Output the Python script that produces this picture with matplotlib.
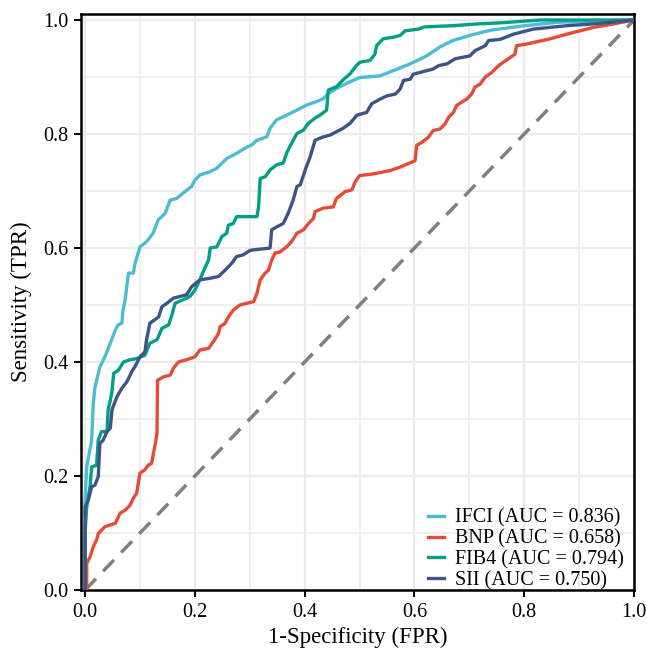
import matplotlib
matplotlib.use("Agg")
import matplotlib.pyplot as plt
from matplotlib.ticker import MultipleLocator

plt.rcParams["font.family"] = ["Liberation Serif", "DejaVu Serif"]

################################## Data #######################################
LABELS = [
    "IFCI (AUC = 0.836)",
    "BNP (AUC = 0.658)",
    "FIB4 (AUC = 0.794)",
    "SII (AUC = 0.750)",
]
COLOURS = ["#4DBBD5", "#E64B35", "#00A087", "#3C5488"]

IFCI_FPR = [0, 0, 0.003, 0.012, 0.015, 0.018, 0.027, 0.036, 0.046, 0.055,
            0.06, 0.067, 0.069, 0.073, 0.079, 0.088, 0.091, 0.1, 0.112,
            0.124, 0.133, 0.146, 0.155, 0.167, 0.182, 0.194, 0.2, 0.209,
            0.228, 0.24, 0.258, 0.276, 0.291, 0.304, 0.313, 0.331, 0.337,
            0.349, 0.367, 0.386, 0.404, 0.422, 0.434, 0.443, 0.458, 0.477,
            0.5, 0.537, 0.561, 0.592, 0.622, 0.647, 0.67, 0.701, 0.738, 0.8,
            0.86, 1]
IFCI_TPR = [0, 0.158, 0.216, 0.263, 0.328, 0.356, 0.391, 0.409, 0.433, 0.456,
            0.465, 0.468, 0.49, 0.509, 0.556, 0.556, 0.573, 0.602, 0.611,
            0.626, 0.649, 0.661, 0.684, 0.687, 0.699, 0.708, 0.719, 0.728,
            0.734, 0.74, 0.757, 0.766, 0.775, 0.781, 0.789, 0.795, 0.81,
            0.825, 0.833, 0.842, 0.851, 0.857, 0.862, 0.871, 0.88, 0.889,
            0.899, 0.902, 0.911, 0.923, 0.937, 0.953, 0.964, 0.973, 0.982,
            0.99, 0.996, 1]

BNP_FPR = [0, 0.003, 0.003, 0.009, 0.015, 0.021, 0.024, 0.03, 0.036, 0.055,
           0.064, 0.073, 0.082, 0.088, 0.094, 0.1, 0.109, 0.115, 0.121, 0.128,
           0.131, 0.132, 0.143, 0.155, 0.161, 0.17, 0.185, 0.2, 0.209, 0.225,
           0.234, 0.243, 0.246, 0.255, 0.261, 0.27, 0.282, 0.307, 0.313,
           0.319, 0.328, 0.334, 0.34, 0.346, 0.355, 0.367, 0.376, 0.386,
           0.398, 0.407, 0.416, 0.419, 0.434, 0.452, 0.458, 0.474, 0.486,
           0.492, 0.5, 0.525, 0.556, 0.574, 0.586, 0.601, 0.604, 0.613,
           0.625, 0.634, 0.647, 0.656, 0.662, 0.671, 0.677, 0.686, 0.695,
           0.704, 0.71, 0.72, 0.729, 0.741, 0.75, 0.756, 0.774, 0.783, 0.786,
           0.805, 0.847, 0.877, 0.926, 0.962, 1]
BNP_TPR = [0, 0, 0.047, 0.058, 0.076, 0.088, 0.099, 0.105, 0.111, 0.117,
           0.135, 0.14, 0.149, 0.161, 0.17, 0.205, 0.211, 0.219, 0.222, 0.257,
           0.275, 0.368, 0.374, 0.377, 0.389, 0.4, 0.404, 0.409, 0.421, 0.424,
           0.436, 0.45, 0.462, 0.468, 0.479, 0.491, 0.5, 0.506, 0.52, 0.544,
           0.556, 0.561, 0.579, 0.591, 0.593, 0.602, 0.611, 0.626, 0.632,
           0.643, 0.652, 0.664, 0.67, 0.672, 0.687, 0.699, 0.702, 0.716,
           0.727, 0.73, 0.736, 0.742, 0.747, 0.753, 0.78, 0.785, 0.794,
           0.806, 0.809, 0.818, 0.829, 0.838, 0.85, 0.856, 0.861, 0.87,
           0.882, 0.888, 0.9, 0.908, 0.917, 0.922, 0.934, 0.94, 0.955, 0.958,
           0.967, 0.975, 0.987, 0.993, 1]

FIB4_FPR = [0, 0, 0.003, 0.009, 0.012, 0.021, 0.024, 0.03, 0.04, 0.042,
            0.046, 0.049, 0.052, 0.061, 0.07, 0.082, 0.094, 0.109, 0.118,
            0.131, 0.14, 0.152, 0.158, 0.164, 0.185, 0.191, 0.2, 0.209, 0.215,
            0.225, 0.228, 0.24, 0.249, 0.258, 0.261, 0.27, 0.276, 0.313,
            0.316, 0.319, 0.328, 0.337, 0.349, 0.361, 0.367, 0.373, 0.386,
            0.398, 0.407, 0.419, 0.428, 0.44, 0.443, 0.458, 0.47, 0.483,
            0.495, 0.501, 0.519, 0.528, 0.531, 0.543, 0.562, 0.574, 0.583,
            0.607, 0.619, 0.67, 0.713, 0.756, 0.83, 1]
FIB4_TPR = [0, 0.1, 0.146, 0.181, 0.216, 0.219, 0.263, 0.278, 0.278, 0.316,
            0.333, 0.348, 0.38, 0.386, 0.4, 0.404, 0.406, 0.412, 0.433, 0.439,
            0.459, 0.465, 0.482, 0.503, 0.512, 0.515, 0.526, 0.544, 0.558,
            0.579, 0.6, 0.602, 0.62, 0.626, 0.64, 0.643, 0.655, 0.655, 0.672,
            0.722, 0.725, 0.737, 0.746, 0.749, 0.766, 0.778, 0.801, 0.807,
            0.819, 0.828, 0.833, 0.842, 0.877, 0.883, 0.895, 0.906, 0.921,
            0.926, 0.929, 0.94, 0.955, 0.967, 0.97, 0.973, 0.981, 0.984,
            0.988, 0.99, 0.993, 0.995, 1.0, 1]

SII_FPR = [0, 0, 0.006, 0.012, 0.018, 0.024, 0.027, 0.033, 0.04, 0.046,
           0.049, 0.058, 0.067, 0.076, 0.085, 0.091, 0.1, 0.109, 0.112, 0.118,
           0.134, 0.14, 0.149, 0.161, 0.185, 0.194, 0.209, 0.228, 0.243,
           0.255, 0.267, 0.276, 0.288, 0.301, 0.337, 0.34, 0.349, 0.361,
           0.37, 0.379, 0.386, 0.392, 0.401, 0.41, 0.419, 0.434, 0.446,
           0.458, 0.47, 0.483, 0.495, 0.513, 0.522, 0.537, 0.55, 0.565,
           0.574, 0.58, 0.592, 0.598, 0.61, 0.634, 0.644, 0.659, 0.674,
           0.701, 0.71, 0.729, 0.735, 0.756, 0.78, 0.816, 0.877, 0.938, 1]
SII_TPR = [0, 0.146, 0.158, 0.181, 0.184, 0.199, 0.257, 0.263, 0.278, 0.284,
           0.316, 0.339, 0.354, 0.365, 0.383, 0.392, 0.409, 0.418, 0.439,
           0.468, 0.479, 0.497, 0.503, 0.512, 0.518, 0.532, 0.544, 0.547,
           0.55, 0.561, 0.573, 0.585, 0.588, 0.596, 0.6, 0.632, 0.637, 0.643,
           0.661, 0.684, 0.708, 0.711, 0.737, 0.76, 0.789, 0.795, 0.798,
           0.804, 0.81, 0.819, 0.833, 0.838, 0.853, 0.861, 0.867, 0.87,
           0.879, 0.894, 0.896, 0.905, 0.908, 0.914, 0.92, 0.923, 0.932,
           0.937, 0.946, 0.955, 0.964, 0.966, 0.975, 0.984, 0.99, 0.994, 1]

FPRS = [IFCI_FPR, BNP_FPR, FIB4_FPR, SII_FPR]
TPRS = [IFCI_TPR, BNP_TPR, FIB4_TPR, SII_TPR]

################################## Plot #######################################
fig = plt.figure(figsize=(6.47, 6.5), dpi=100)
ax = fig.add_axes([0.1247, 0.0923, 0.8553, 0.8857])

ax.xaxis.set_major_locator(MultipleLocator(0.2))
ax.yaxis.set_major_locator(MultipleLocator(0.2))
ax.xaxis.set_minor_locator(MultipleLocator(0.1))
ax.yaxis.set_minor_locator(MultipleLocator(0.1))
ax.grid(which="major", color="#EBEBEB", linewidth=1.6)
ax.grid(which="minor", color="#EBEBEB", linewidth=1.1)
ax.set_axisbelow(True)

ax.plot([0, 1], [0, 1], color="grey", linewidth=2.5,
        linestyle=(0, (4.5, 3)), zorder=2)

for fpr, tpr, lab, col in zip(FPRS, TPRS, LABELS, COLOURS):
    ax.plot(fpr, tpr, color=col, linewidth=2.4, label=lab, zorder=3)

ax.set_xlim(-0.008, 1.0)
ax.set_ylim(0, 1.01)

for s in ax.spines.values():
    s.set_linewidth(1.8)
    s.set_color("black")
ax.tick_params(which="major", direction="out", length=5, width=1.4,
               labelsize=14.5, colors="black", top=False, right=False,
               pad=4)
ax.tick_params(which="minor", length=0)

ax.set_xlabel("1-Specificity (FPR)", fontsize=16.5, labelpad=4)
ax.set_ylabel("Sensitivity (TPR)", fontsize=16.5, labelpad=8)

ax.legend(loc="lower right", bbox_to_anchor=(1.0, -0.018), frameon=False,
          fontsize=14.5, handlelength=0.8, handletextpad=0.55,
          labelspacing=0.08, borderaxespad=0.1)

fig.savefig("out.png", dpi=100)
